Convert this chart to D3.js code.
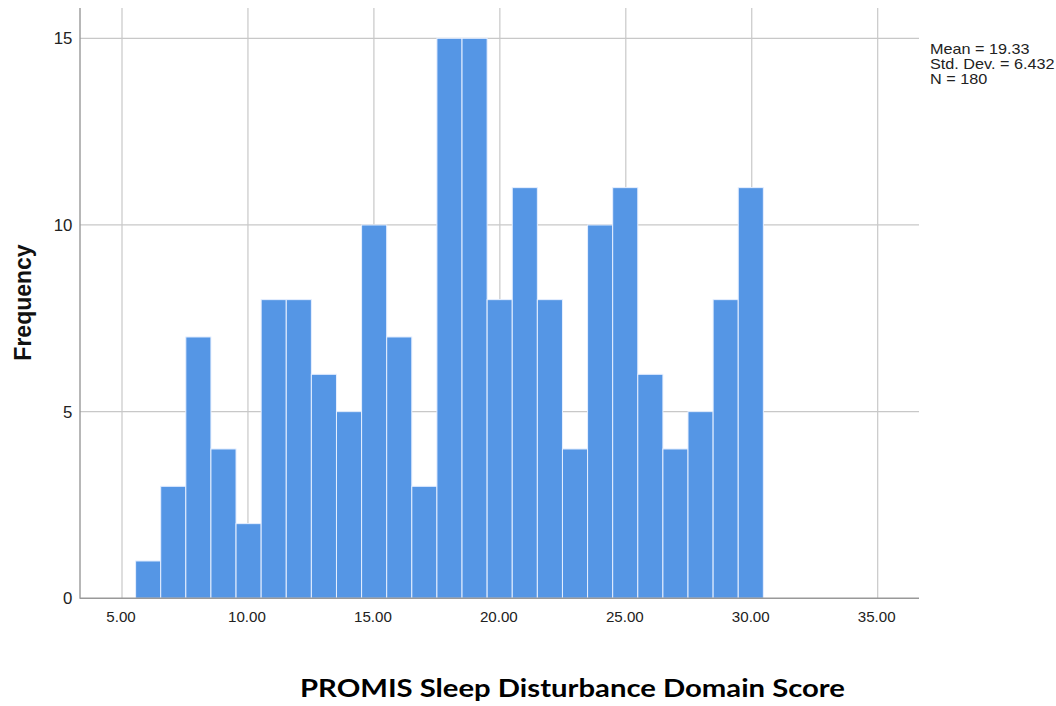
<!DOCTYPE html>
<html><head><meta charset="utf-8">
<script src="https://cdn.jsdelivr.net/npm/d3@7"></script>
<style>body{margin:0;background:#fff}svg{display:block}</style>
</head><body>
<svg id="c" width="1056" height="706"></svg>
<script>
const counts = [1,3,7,4,2,8,8,6,5,10,7,3,15,15,8,11,8,4,10,11,6,4,5,8,11];
const binStart = 5.54, binEnd = 30.46;
const xTicks = [5,10,15,20,25,30,35];
const yTicks = [0,5,10,15];
const stats = ["Mean = 19.33","Std. Dev. = 6.432","N = 180"];
const xTitle = "PROMIS Sleep Disturbance Domain Score";
const yTitle = "Frequency";

(function(){
const svg = d3.select("#c");
const x = d3.scaleLinear().domain([5,35]).range([122,877.7]);
const y = d3.scaleLinear().domain([0,15]).range([598.3,38.3]);
const pLeft = 80, pRight = 919, pTop = 8, pBottom = 598.3;
const bw = (binEnd-binStart)/counts.length;
const bins = counts.map((c,i)=>({x0:binStart+i*bw, x1:binStart+(i+1)*bw, c}));
const font = "Liberation Sans, Arial, sans-serif";

svg.append("g").selectAll("line").data(xTicks).join("line")
  .attr("x1",d=>x(d)).attr("x2",d=>x(d)).attr("y1",pTop).attr("y2",pBottom)
  .attr("stroke","#c8c8c8").attr("stroke-width",1.2);
svg.append("g").selectAll("line").data(yTicks.filter(d=>d>0)).join("line")
  .attr("x1",pLeft).attr("x2",pRight).attr("y1",d=>y(d)).attr("y2",d=>y(d))
  .attr("stroke","#c8c8c8").attr("stroke-width",1.2);

svg.append("g").selectAll("rect").data(bins).join("rect")
  .attr("x",d=>x(d.x0)).attr("width",d=>x(d.x1)-x(d.x0))
  .attr("y",d=>y(d.c)).attr("height",d=>y(0)-y(d.c))
  .attr("fill","#5596e5").attr("stroke","#e6efff").attr("stroke-width",1);

svg.append("line").attr("x1",pLeft).attr("x2",pLeft).attr("y1",pTop).attr("y2",pBottom+0.5)
  .attr("stroke","#999").attr("stroke-width",1.4);
svg.append("line").attr("x1",pLeft).attr("x2",pRight).attr("y1",pBottom).attr("y2",pBottom)
  .attr("stroke","#999").attr("stroke-width",1.4);

svg.append("g").selectAll("text").data(xTicks).join("text")
  .attr("transform",d=>`translate(${x(d)-1},621.7) scale(1.08,1)`).attr("text-anchor","middle")
  .attr("font-family",font).attr("font-size",14).attr("fill","#222")
  .text(d=>d.toFixed(2));
svg.append("g").selectAll("text").data(yTicks).join("text")
  .attr("transform",d=>`translate(72.3,${y(d)+6}) scale(1.05,1)`).attr("text-anchor","end")
  .attr("font-family",font).attr("font-size",16).attr("fill","#222")
  .text(d=>d);

svg.append("g").selectAll("text").data(stats).join("text")
  .attr("transform",(d,i)=>`translate(930,${54+i*15}) scale(1.08,1)`)
  .attr("font-family",font).attr("font-size",15).attr("fill","#222")
  .text(d=>d);

svg.append("text").attr("transform","translate(31,302.5) rotate(-90)").attr("text-anchor","middle")
  .attr("font-family",font).attr("font-weight","bold").attr("font-size",23).attr("fill","#111")
  .text(yTitle);
svg.append("text").attr("x",300).attr("y",697).attr("text-anchor","start")
  .attr("textLength",545).attr("lengthAdjust","spacingAndGlyphs")
  .attr("font-family","Lato, Carlito, sans-serif").attr("font-weight","bold").attr("font-size",25.5).attr("fill","#000")
  .text(xTitle);
})();
</script>
</body></html>
